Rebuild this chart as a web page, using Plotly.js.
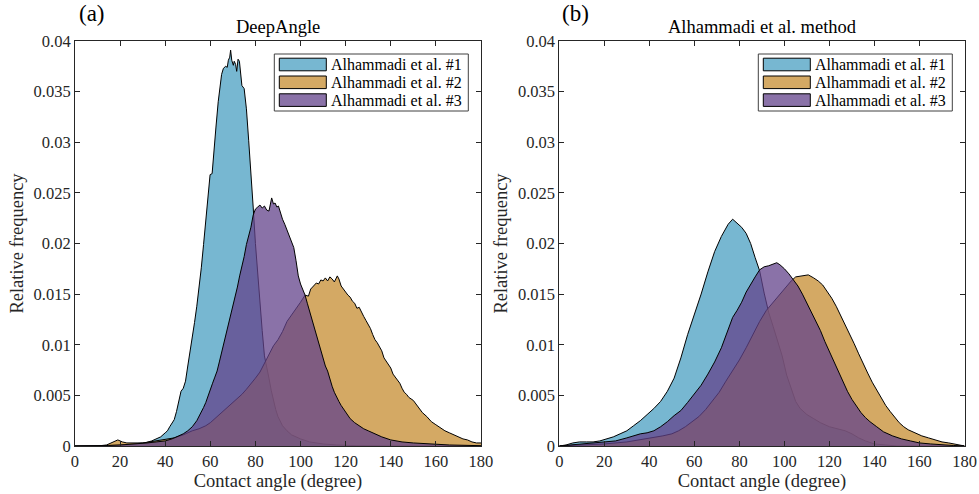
<!DOCTYPE html>
<html>
<head>
<meta charset="utf-8">
<script src="https://cdn.plot.ly/plotly-3.0.1.min.js"></script>
<style>
  html, body { margin: 0; padding: 0; background: #ffffff; }
  #chart { width: 979px; height: 494px; }
</style>
</head>
<body>
<div id="chart"></div>
<script>
// Series names (shared by both panels)
const seriesNames = ['Alhammadi et al. #1', 'Alhammadi et al. #2', 'Alhammadi et al. #3'];

// Panel (a): DeepAngle contact-angle distributions
const deepX1 = [0,8,12,16,20,24,28,31,34,36,38,40,41,42,43,44,45,46,47,48,49,50,51,52,53,54,55,56,57,58,59,59.9,60.8,61.5,62.5,63.5,64.3,65,65.8,66.8,67.5,68,68.6,69,69.5,70.2,70.6,71.2,71.7,72.3,72.9,73.4,74,75,76,77,78,79,80,81,82,83,84,85,86,87,88,89,90,92,94,96,100,104,110,116,125,140,180];
const deepY1 = [0,0,0.00003,0.00008,0.0001,0.00015,0.00025,0.0003,0.0005,0.0007,0.0009,0.0013,0.0015,0.0019,0.0022,0.0026,0.0034,0.0044,0.0054,0.0057,0.0064,0.0079,0.0092,0.0107,0.0122,0.0138,0.0155,0.0176,0.0199,0.0221,0.0244,0.0268,0.0269,0.0285,0.0315,0.0340,0.0355,0.0367,0.0373,0.0375,0.0374,0.0381,0.0384,0.0391,0.0381,0.0376,0.0380,0.0377,0.0370,0.0382,0.0380,0.0368,0.0356,0.0353,0.0333,0.0302,0.0272,0.0236,0.0200,0.0168,0.0140,0.0114,0.0089,0.0076,0.0067,0.0055,0.0045,0.0036,0.0029,0.0020,0.0015,0.0011,0.0007,0.0004,0.0002,0.0001,0.00003,0,0];

const deepX2 = [0,10,14,16,18,19,20,21,23,25,28,30,33,36,40,44,48,52,55,58,60,62,64,66,68,70,72,74,76,78,80,82,84,86,88,90,92,94,96,98,100,102,103.5,104.5,106,107,108,109,110,111,112,113,114,115,116.3,117,118,119,120,121,122,123,124,125,126,127,128,129,130,131,132,133,134,135,136,137,138,139,140,141,142,143,144,145,146,147,148,150,152,154,156,158,160,162,164,166,168,170,172,174,176,178,180];
const deepY2 = [0,0,0.0001,0.0003,0.0005,0.0006,0.0005,0.0004,0.0003,0.0003,0.0003,0.0003,0.0004,0.0005,0.0006,0.0008,0.0011,0.0015,0.0017,0.0020,0.0023,0.0027,0.0031,0.0035,0.0039,0.0043,0.0047,0.0051,0.0056,0.0061,0.0067,0.0073,0.0082,0.0090,0.0099,0.0105,0.0113,0.0123,0.0129,0.0135,0.0142,0.0149,0.0148,0.0155,0.0158,0.0161,0.0160,0.0164,0.0163,0.0166,0.0163,0.0167,0.0165,0.0162,0.0168,0.0165,0.0158,0.0155,0.0151,0.0149,0.0147,0.0143,0.0141,0.0136,0.0137,0.0132,0.0128,0.0124,0.0120,0.0116,0.0110,0.0105,0.0102,0.0098,0.0094,0.0087,0.0084,0.0080,0.0077,0.0071,0.0068,0.0066,0.0062,0.0057,0.0053,0.0051,0.0048,0.0045,0.0039,0.0033,0.0029,0.0024,0.0021,0.0018,0.0015,0.0013,0.0011,0.0009,0.0007,0.0006,0.0004,0.0003,0.0003];

const deepX3 = [0,10,15,20,24,28,32,36,40,43,46,48,50,52,54,55,56,57,58,59,60,61,62,63,64,65,66,67,68,69,70,71,72,73,74,75,76,77,78,79,80,81,82,83,84,85,86,87.2,88,88.7,89.5,90.2,91,92,93,94,95,96,97,98,99,100,101,102,103,104,105,106,107,108,109,110,111,112,113,114,115,116,117,118,120,122,124,126,128,130,133,136,140,145,150,158,166,180];
const deepY3 = [0,0,0.00005,0.0001,0.00015,0.0002,0.0003,0.0004,0.0005,0.0007,0.0010,0.0012,0.0015,0.0019,0.0025,0.0029,0.0033,0.0038,0.0043,0.0050,0.0056,0.0062,0.0068,0.0074,0.0083,0.0092,0.0101,0.0110,0.0120,0.0130,0.0139,0.0148,0.0157,0.0168,0.0177,0.0187,0.0199,0.0207,0.0216,0.0228,0.0234,0.0236,0.0238,0.0235,0.0237,0.0233,0.0232,0.0245,0.0239,0.0240,0.0236,0.0237,0.0231,0.0224,0.0219,0.0213,0.0207,0.0201,0.0196,0.0183,0.0168,0.0160,0.0155,0.0149,0.0141,0.0133,0.0126,0.0117,0.0110,0.0101,0.0093,0.0086,0.0079,0.0074,0.0066,0.0059,0.0053,0.0048,0.0044,0.0040,0.0033,0.0027,0.0023,0.0020,0.0017,0.0015,0.0012,0.0009,0.0006,0.0004,0.0003,0.0002,0.0001,0.00003];

// Panel (b): Alhammadi et al. method distributions
const alhX1 = [0,3,6,9,12,15,18,21,24,27,30,33,36,39,42,45,48,51,54,57,60,63,66,69,72,75,77,79,81,83,85,87,89,91,93,95,97,99,101,103,105,107,110,113,116,120,124,127,130,133,136,140,145,150,180];
const alhY1 = [0,0.0001,0.0003,0.0004,0.0004,0.0004,0.0005,0.0007,0.0009,0.0012,0.0015,0.0020,0.0025,0.0031,0.0037,0.0044,0.0054,0.0067,0.0087,0.0110,0.0129,0.0150,0.0172,0.0192,0.0207,0.0219,0.0224,0.0220,0.0216,0.0210,0.0200,0.0186,0.0173,0.0151,0.0132,0.0118,0.0104,0.0089,0.0070,0.0056,0.0044,0.0037,0.0031,0.0027,0.0023,0.0019,0.0017,0.0015,0.0012,0.0008,0.0005,0.0002,0.0001,0,0];

const alhX2 = [0,10,20,30,36,42,46,50,53,56,59,62,65,68,71,74,77,80,83,86,89,92,95,98,101,103,105,108,110.6,113,115,117,119,121,123,125,127,129,131,133,135,137,139,141,143,145,147,149,151,153,155,158,161,164,167,170,173,176,180];
const alhY2 = [0,0.0001,0.0002,0.0004,0.0006,0.0008,0.0010,0.0012,0.0015,0.0019,0.0024,0.0029,0.0036,0.0044,0.0053,0.0064,0.0074,0.0085,0.0097,0.0110,0.0123,0.0134,0.0142,0.0150,0.0157,0.0163,0.0167,0.0168,0.0169,0.0166,0.0163,0.0159,0.0153,0.0146,0.0138,0.0129,0.0120,0.0111,0.0101,0.0091,0.0081,0.0072,0.0063,0.0055,0.0047,0.0040,0.0034,0.0028,0.0023,0.0019,0.0016,0.0013,0.0010,0.0008,0.0006,0.0004,0.0003,0.0002,0];

const alhX3 = [0,5,10,15,20,25,30,33,36,39,42,45,48,51,54,57,60,63,66,69,72,75,77,79,81,83,85,87,89,91,93,95,96.6,98,100,102,104,106,108,110,112,114,116,118,120,122,124,126,128,130,132,134,136,138,141,144,148,152,156,160,165,170,175,180];
const alhY3 = [0,0.0001,0.0002,0.0003,0.0004,0.0005,0.0008,0.0010,0.0012,0.0013,0.0015,0.0019,0.0024,0.0030,0.0035,0.0043,0.0051,0.0060,0.0071,0.0083,0.0097,0.0115,0.0127,0.0134,0.0142,0.0152,0.0160,0.0167,0.0174,0.0177,0.0178,0.0180,0.0181,0.0179,0.0175,0.0170,0.0164,0.0158,0.0150,0.0141,0.0132,0.0124,0.0114,0.0103,0.0093,0.0083,0.0073,0.0063,0.0054,0.0046,0.0039,0.0033,0.0028,0.0024,0.0019,0.0014,0.0010,0.0007,0.0005,0.0003,0.0002,0.0001,0.00005,0];

// Axis ticks
const angleTicks = [0,20,40,60,80,100,120,140,160,180];
const freqTicks = [0,0.005,0.01,0.015,0.02,0.025,0.03,0.035,0.04];
const freqTickText = ['0','0.005','0.01','0.015','0.02','0.025','0.03','0.035','0.04'];

// Translucent fills, stacked in series order
const fillColors = ['rgba(74,159,194,0.75)', 'rgba(198,140,48,0.75)', 'rgba(99,67,139,0.75)'];

const FONT = '"Liberation Serif", "DejaVu Serif", serif';
const INK = '#262626';
const W = 979, H = 494;

function area(x, y, i, xa, ya) {
  return {
    type: 'scatter', mode: 'lines',
    x: x, y: y, xaxis: xa, yaxis: ya,
    name: seriesNames[i],
    fill: 'tozeroy',
    fillcolor: fillColors[i],
    line: { color: '#000000', width: 1 },
    showlegend: false,
    hoverinfo: 'skip'
  };
}

const traces = [
  area(deepX1, deepY1, 0, 'x', 'y'),
  area(deepX2, deepY2, 1, 'x', 'y'),
  area(deepX3, deepY3, 2, 'x', 'y'),
  area(alhX1, alhY1, 0, 'x2', 'y2'),
  area(alhX2, alhY2, 1, 'x2', 'y2'),
  area(alhX3, alhY3, 2, 'x2', 'y2')
];

function xAxis(domain, anchor) {
  return {
    domain: domain, anchor: anchor, range: [0, 180],
    tickvals: angleTicks, ticks: 'inside', ticklen: 5, tickcolor: INK,
    mirror: 'ticks', showline: true, linecolor: INK, linewidth: 1,
    showgrid: false, zeroline: false,
    tickfont: { family: FONT, size: 16.5, color: INK },
    title: { text: 'Contact angle (degree)', font: { family: FONT, size: 18.5, color: INK }, standoff: 3 }
  };
}
function yAxis(domain, anchor) {
  return {
    domain: domain, anchor: anchor, range: [0, 0.04],
    tickvals: freqTicks, ticktext: freqTickText, ticks: 'inside', ticklen: 5, tickcolor: INK,
    mirror: 'ticks', showline: true, linecolor: INK, linewidth: 1,
    showgrid: false, zeroline: false,
    tickfont: { family: FONT, size: 16.5, color: INK },
    title: { text: 'Relative frequency', font: { family: FONT, size: 18.5, color: INK }, standoff: 5 }
  };
}

// Boxed legend drawn inside each panel's upper-right corner (pixel layout -> paper)
const px = (v) => v / W;
const py = (v) => 1 - v / H;
const shapes = [];
const annotations = [];
function addLegend(boxLeft) {
  const boxTop = 54, boxW = 194, boxH = 57, rowGap = 17.8;
  shapes.push({ type: 'rect', xref: 'paper', yref: 'paper',
    x0: px(boxLeft), x1: px(boxLeft + boxW), y0: py(boxTop + boxH), y1: py(boxTop),
    fillcolor: '#ffffff', line: { color: '#404040', width: 1 } });
  seriesNames.forEach((name, i) => {
    const cy = boxTop + 10.5 + i * rowGap;
    shapes.push({ type: 'rect', xref: 'paper', yref: 'paper',
      x0: px(boxLeft + 5), x1: px(boxLeft + 52), y0: py(cy + 6.3), y1: py(cy - 6.3),
      fillcolor: fillColors[i], line: { color: '#000000', width: 1 } });
    annotations.push({ text: name, xref: 'paper', yref: 'paper',
      x: px(boxLeft + 55), y: py(cy), xanchor: 'left', yanchor: 'middle',
      showarrow: false, font: { family: FONT, size: 16, color: '#000000' } });
  });
}
addLegend(274.3);
addLegend(758.3);

annotations.push(
  { text: 'DeepAngle', xref: 'paper', yref: 'paper', x: px(278), y: py(27), xanchor: 'center', yanchor: 'middle', showarrow: false, font: { family: FONT, size: 18.5, color: '#000000' } },
  { text: 'Alhammadi et al. method', xref: 'paper', yref: 'paper', x: px(762), y: py(27), xanchor: 'center', yanchor: 'middle', showarrow: false, font: { family: FONT, size: 18.5, color: '#000000' } },
  { text: '(a)', xref: 'paper', yref: 'paper', x: px(92), y: py(13.5), xanchor: 'center', yanchor: 'middle', showarrow: false, font: { family: FONT, size: 23, color: '#000000' } },
  { text: '(b)', xref: 'paper', yref: 'paper', x: px(575), y: py(13.5), xanchor: 'center', yanchor: 'middle', showarrow: false, font: { family: FONT, size: 23, color: '#000000' } }
);

const yDom = [0.0972, 0.917];

const layout = {
  width: W, height: H,
  margin: { l: 0, r: 0, t: 0, b: 0 },
  paper_bgcolor: '#ffffff', plot_bgcolor: '#ffffff',
  font: { family: FONT, color: INK },
  showlegend: false,
  xaxis: xAxis([0.0766, 0.4913], 'y'),
  yaxis: yAxis(yDom, 'x'),
  xaxis2: xAxis([0.5713, 0.9852], 'y2'),
  yaxis2: yAxis(yDom, 'x2'),
  shapes: shapes,
  annotations: annotations
};

Plotly.newPlot('chart', traces, layout, { staticPlot: true, displayModeBar: false });
</script>
</body>
</html>
